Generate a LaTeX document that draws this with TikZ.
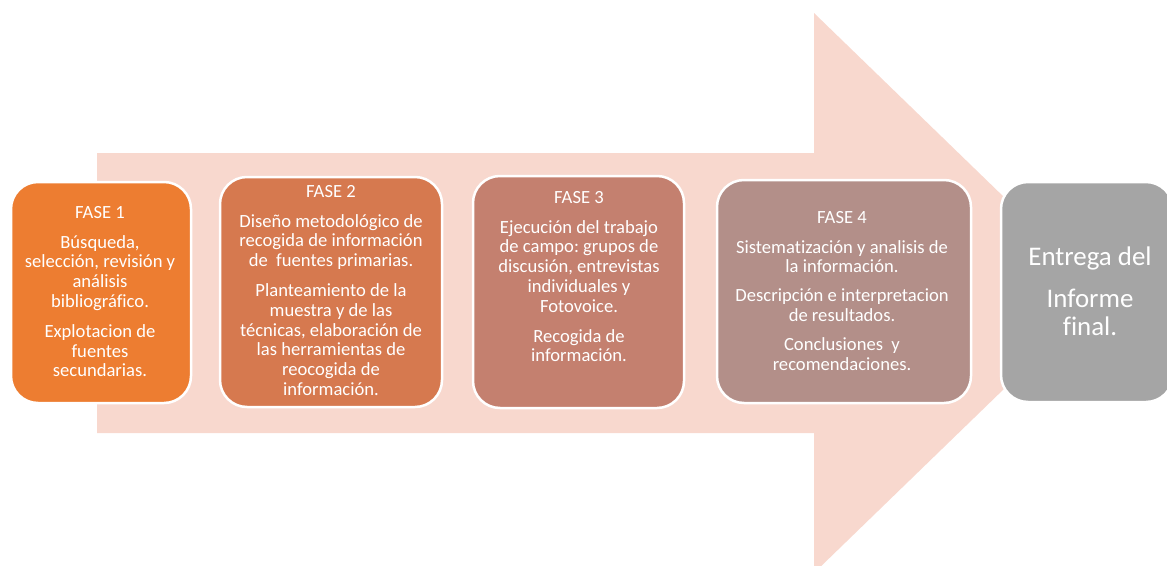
\documentclass[tikz,border=0pt]{standalone}
\usepackage{fontspec}
\setmainfont{Carlito}[Ligatures={CommonOff}]
\frenchspacing
\definecolor{arrowc}{HTML}{F8D8CE}
\definecolor{cA}{HTML}{ED7D31}
\definecolor{cB}{HTML}{D6794F}
\definecolor{cC}{HTML}{C4806F}
\definecolor{cD}{HTML}{B38F89}
\definecolor{cE}{HTML}{A5A5A5}
\tikzset{
  phasebox/.style={draw=white, line width=2.5pt, rounded corners=27pt, rectangle, inner sep=0pt},
  phasetext/.style={text=white, align=center, inner sep=0pt, anchor=north, font=\fontsize{18.6pt}{19.8pt}\selectfont},
  bigtext/.style={text=white, align=center, inner sep=0pt, anchor=north, font=\fontsize{26.9pt}{28.5pt}\selectfont}
}
\newcommand{\topstrut}{\rule{0pt}{15pt}}
\newcommand{\bigstrut}{\rule{0pt}{22pt}}
\begin{document}
\begin{tikzpicture}[x=1pt,y=-1pt]
\useasboundingbox (0,0) rectangle (1167,565);
% background arrow
\fill[arrowc] (97,153) -- (814,153) -- (814,13) -- (1103,293) -- (814,573) -- (814,433) -- (97,433) -- cycle;
% phase boxes
\node[phasebox, fill=cA, minimum width=180pt, minimum height=221pt] (f1) at (101,292.5) {};
\node[phasebox, fill=cB, minimum width=222pt, minimum height=230pt] (f2) at (331,292) {};
\node[phasebox, fill=cC, minimum width=211pt, minimum height=232pt] (f3) at (578.5,292) {};
\node[phasebox, fill=cD, minimum width=254pt, minimum height=223pt] (f4) at (844,291.5) {};
\node[phasebox, fill=cE, minimum width=172pt, minimum height=220pt] (f5) at (1087,292) {};
% texts
\node[phasetext] (t1) at (100,203) {\topstrut FASE 1\\[10pt]
Búsqueda,\\ selección, revisión y\\ análisis\\ bibliográfico.\\[10pt]
Explotacion de\\ fuentes\\ secundarias.};
\node[phasetext] (t2) at (331,182) {\topstrut FASE 2\\[10pt]
Diseño metodológico de\\ recogida de información\\ de\ \ fuentes primarias.\\[10pt]
Planteamiento de la\\ muestra y de las\\ técnicas, elaboración de\\ las herramientas de\\ reocogida de\\ información.};
\node[phasetext] (t3) at (579,188) {\topstrut FASE 3\\[10pt]
Ejecución del trabajo\\ de campo: grupos de\\ discusión, entrevistas\\ individuales y\\ Fotovoice.\\[10pt]
Recogida de\\ información.};
\node[phasetext] (t4) at (842,208) {\topstrut FASE 4\\[10pt]
Sistematización y analisis de\\ la información.\\[9pt]
Descripción e interpretacion\\ de resultados.\\[9pt]
Conclusiones\ \ y\\ recomendaciones.};
\node[bigtext] (t5) at (1090,243) {\bigstrut Entrega del\\[13.5pt] Informe\\ final.};
\end{tikzpicture}
\end{document}
